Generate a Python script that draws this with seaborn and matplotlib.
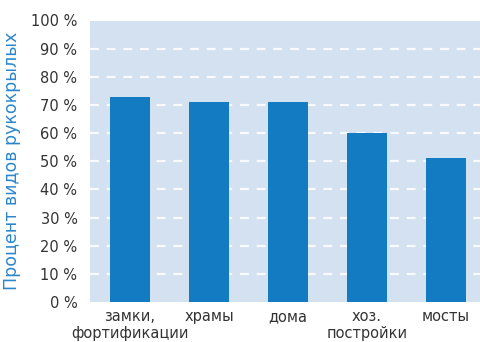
import numpy as np
import pandas as pd
import matplotlib
matplotlib.use('Agg')
import matplotlib.pyplot as plt
import seaborn as sns

# --- данные ---
categories = ['замки,\nфортификации', 'храмы', 'дома', 'хоз.\nпостройки', 'мосты']
values = [73, 71, 71, 60, 51]
yticks = list(range(0, 101, 10))
ytick_labels = [f'{t} %' for t in yticks]

df = pd.DataFrame({'cat': categories, 'val': values})

sns.set_theme(style='white')
plt.rcParams['font.family'] = ['DejaVu Sans']

fig = plt.figure(figsize=(4.8, 3.42), dpi=100)
ax = fig.add_axes([90 / 480, 1 - 302 / 342, 390 / 480, 281.5 / 342])

sns.barplot(data=df, x='cat', y='val', color='#127bc1', saturation=1,
            width=0.506, ax=ax, zorder=3, edgecolor='none', linewidth=0)

ax.set_facecolor('#d4e1f1')
ax.set_xlim(-0.506, 4.43)
ax.set_ylim(0, 100)
ax.set_yticks(yticks)
ax.set_yticklabels(ytick_labels)
ax.yaxis.grid(True, color='white', linestyle=(0, (4, 3.5)), linewidth=1.6, alpha=0.85, zorder=1)
ax.get_ygridlines()[0].set_visible(False)
ax.get_ygridlines()[-1].set_visible(False)
ax.xaxis.grid(False)
ax.set_axisbelow(True)
for s in ax.spines.values():
    s.set_visible(False)

ax.tick_params(axis='both', length=0, labelsize=10.5, labelcolor='#333333')
ax.tick_params(axis='y', pad=9)
ax.tick_params(axis='x', pad=5)
for lbl in ax.get_xticklabels():
    lbl.set_linespacing(1.15)
ax.set_xlabel('')
ax.set_ylabel('Процент видов рукокрылых', color='#2a86cc', fontsize=12.5, labelpad=7)

fig.savefig('out.png', dpi=100)
